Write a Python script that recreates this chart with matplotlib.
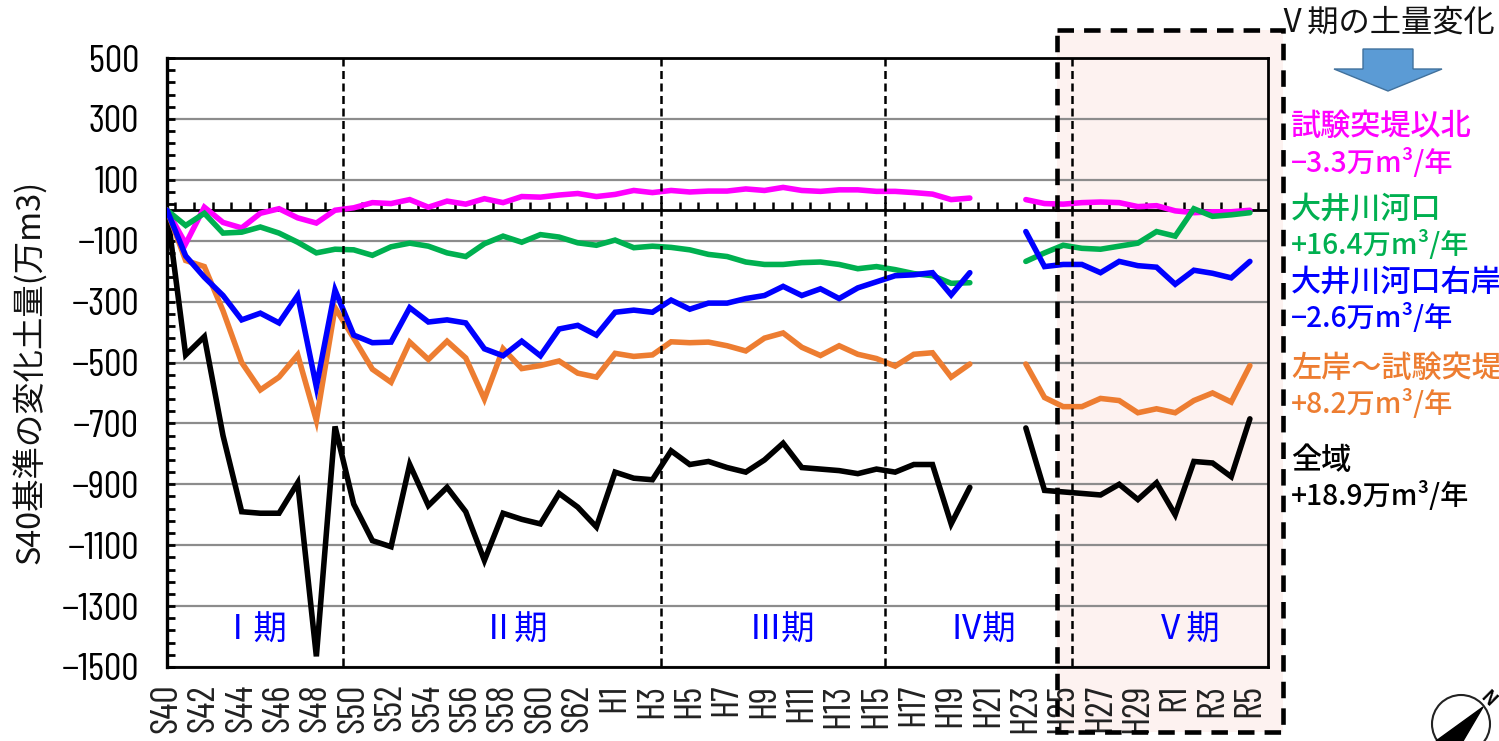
import numpy as np
import matplotlib
matplotlib.use("Agg")
import matplotlib.pyplot as plt
from matplotlib.patches import Rectangle, Polygon, Circle

plt.rcParams['font.family'] = ['Noto Sans CJK JP', 'DejaVu Sans']
NARROW = ['Barlow Condensed', 'Liberation Sans', 'DejaVu Sans']

W, H = 1499, 741

x_labels = ['S40','S42','S44','S46','S48','S50','S52','S54','S56','S58','S60','S62',
            'H1','H3','H5','H7','H9','H11','H13','H15','H17','H19','H21','H23','H25',
            'H27','H29','R1','R3','R5']
y_labels = ['500','300','100','−100','−300','−500','−700','−900','−1100','−1300','−1500']
y_ticks = [500,300,100,-100,-300,-500,-700,-900,-1100,-1300,-1500]

# S40 .. H20 (index 0..43), gap H21-H22, H23 .. R5 (index 46..58)
black_a = [0,-475,-415,-740,-990,-995,-995,-895,-1465,-710,-965,-1085,-1105,-835,-970,-910,-990,-1150,-995,-1015,-1030,-930,-975,-1040,
           -860,-880,-885,-790,-835,-825,-845,-860,-820,-765,-845,-850,-855,-865,-850,-860,-835,-835,-1030,-910]
black_b = [-715,-920,-925,-930,-935,-900,-950,-895,-1000,-825,-830,-875,-685]
orange_a = [0,-165,-185,-330,-500,-590,-548,-475,-690,-320,-420,-522,-565,-433,-490,-430,-485,-620,-455,-520,-510,-495,-535,-548,
            -470,-480,-475,-432,-435,-433,-445,-462,-420,-403,-450,-477,-445,-473,-487,-512,-473,-468,-548,-505]
orange_b = [-505,-615,-645,-645,-618,-625,-665,-652,-665,-625,-600,-630,-510]
blue_a = [0,-150,-220,-280,-360,-338,-370,-280,-580,-262,-410,-435,-433,-320,-367,-360,-370,-455,-478,-430,-478,-390,-378,-410,
          -335,-328,-335,-295,-325,-305,-305,-290,-280,-250,-280,-258,-290,-255,-235,-215,-212,-205,-278,-205]
blue_b = [-70,-185,-178,-178,-205,-168,-182,-187,-243,-197,-207,-222,-168]
green_a = [0,-50,-10,-75,-72,-55,-75,-105,-140,-128,-130,-148,-120,-108,-118,-140,-152,-110,-85,-105,-80,-88,-107,-115,
           -98,-123,-118,-122,-130,-145,-152,-170,-178,-178,-172,-170,-178,-192,-185,-195,-208,-215,-240,-238]
green_b = [-168,-140,-115,-125,-128,-118,-108,-70,-85,5,-20,-15,-8]
magenta_a = [0,-110,10,-40,-58,-10,5,-25,-42,0,8,25,22,35,10,30,20,38,25,45,43,50,55,45,
             52,65,58,65,60,63,63,70,65,75,65,62,67,67,62,62,58,53,35,40]
magenta_b = [35,22,20,25,27,25,12,15,-2,-8,-5,-5,0]

fig = plt.figure(figsize=(W/100, H/100), dpi=100, facecolor='white')

def px_axes(z):
    a = fig.add_axes([0, 0, 1, 1], zorder=z)
    a.set_xlim(0, W); a.set_ylim(H, 0); a.axis('off')
    a.patch.set_alpha(0)
    return a

bg = px_axes(0)
bg.add_patch(Rectangle((1057, 30), 226, 702, fc='#FDF2F0', ec='none'))

L, R, T, B = 167, 1268, 58, 667
ax = fig.add_axes([L/W, 1-B/H, (R-L)/W, (B-T)/H], zorder=1)
ax.patch.set_alpha(0)
ax.set_ylim(-1500, 500)
ax.set_xlim(0, 58.97)

ax.yaxis.grid(True, color='#8c8c8c', lw=1.6)
ax.set_axisbelow(True)
ax.set_yticks(y_ticks, y_labels, fontsize=28, family=NARROW)
ax.set_yticks(np.arange(-1500, 501, 40), minor=True)
ax.tick_params(axis='y', which='both', direction='in', length=5.5, width=2, pad=20, color='black')
ax.tick_params(axis='y', which='minor', labelleft=False)
ax.grid(False, which='minor')

x_pos = np.arange(0, 59, 2)
ax.set_xticks(x_pos, x_labels, rotation=90, fontsize=28, family=NARROW, color='#222222')
ax.tick_params(axis='x', length=0, pad=12)

ax.spines['left'].set_linewidth(2.4)
for s in ('top', 'bottom', 'right'):
    ax.spines[s].set_linewidth(2.0)

ax.axhline(0, color='black', lw=2.0, zorder=2)
# year ticks rising from the zero line
ax.plot(np.arange(0.45, 59, 1), np.zeros(59), ls='none', marker=matplotlib.markers.TICKUP,
        ms=5.5, mew=1.8, color='black', zorder=2)

xa = np.arange(0, 44)
xb = np.arange(46, 59)
LW = 4.0
for a, b, c in [(black_a, black_b, '#000000'), (orange_a, orange_b, '#ED7D31'),
                (magenta_a, magenta_b, '#FF00FF'), (green_a, green_b, '#00B050'),
                (blue_a, blue_b, '#0000FF')]:
    ax.plot(xa, a, color=c, lw=LW, solid_joinstyle='miter', solid_capstyle='round', zorder=3)
    ax.plot(xb, b, color=c, lw=LW, solid_joinstyle='miter', solid_capstyle='round', zorder=3)

ov = px_axes(2)
for xp in (343, 661, 885, 1072):
    ov.plot([xp, xp], [T, B], color='black', lw=1.8, dashes=(3.2, 1.8))
ov.add_patch(Rectangle((1057, 30), 226, 702, fc='none', ec='black', lw=3.3,
                       ls=(0, (3.6, 2.2))))

ov.text(30, 372, 'S40基準の変化土量(万m3)', rotation=90, ha='center', va='center',
        fontsize=23.3, color='#111111')

for label, xc in [('Ⅰ期', 254), ('Ⅱ期', 515), ('Ⅲ期', 782), ('Ⅳ期', 983), ('Ⅴ期', 1187)]:
    ov.text(xc, 630, label, ha='center', va='center', fontsize=24, color='#0000FF')

ov.text(1386, 23, 'Ⅴ期の土量変化', ha='center', va='center', fontsize=22.5, color='#111111')
ov.add_patch(Polygon([(1363, 49), (1413, 49), (1413, 69), (1442, 69), (1388, 91), (1334, 69), (1363, 69)],
                     closed=True, fc='#5B9BD5', ec='#41719C', lw=1))

side = [(126, '試験突堤以北', '#FF00FF', 21.7), (163, '−3.3万m³/年', '#FF00FF', 20.3),
        (209, '大井川河口', '#00B050', 21.7), (245, '+16.4万m³/年', '#00B050', 20.3),
        (282, '大井川河口右岸', '#0000FF', 21.7), (318, '−2.6万m³/年', '#0000FF', 20.3),
        (368, '左岸～試験突堤', '#ED7D31', 21.7), (404, '+8.2万m³/年', '#ED7D31', 20.3),
        (460, '全域', '#000000', 21.7), (496, '+18.9万m³/年', '#000000', 20.3)]
for yp, s, c, fs in side:
    ov.text(1291, yp, s, ha='left', va='center', fontsize=fs, color=c, weight=500)

# compass
ov.add_patch(Circle((1461, 724), 29, fc='white', ec='#222222', lw=1.5))
ov.add_patch(Polygon([(1483, 707), (1463, 741), (1436, 741)], closed=True, fc='black', ec='black'))
ov.text(1488, 699, 'N', rotation=-45, ha='center', va='center', fontsize=13, weight='bold', color='black')

fig.savefig('out.png', dpi=100)
